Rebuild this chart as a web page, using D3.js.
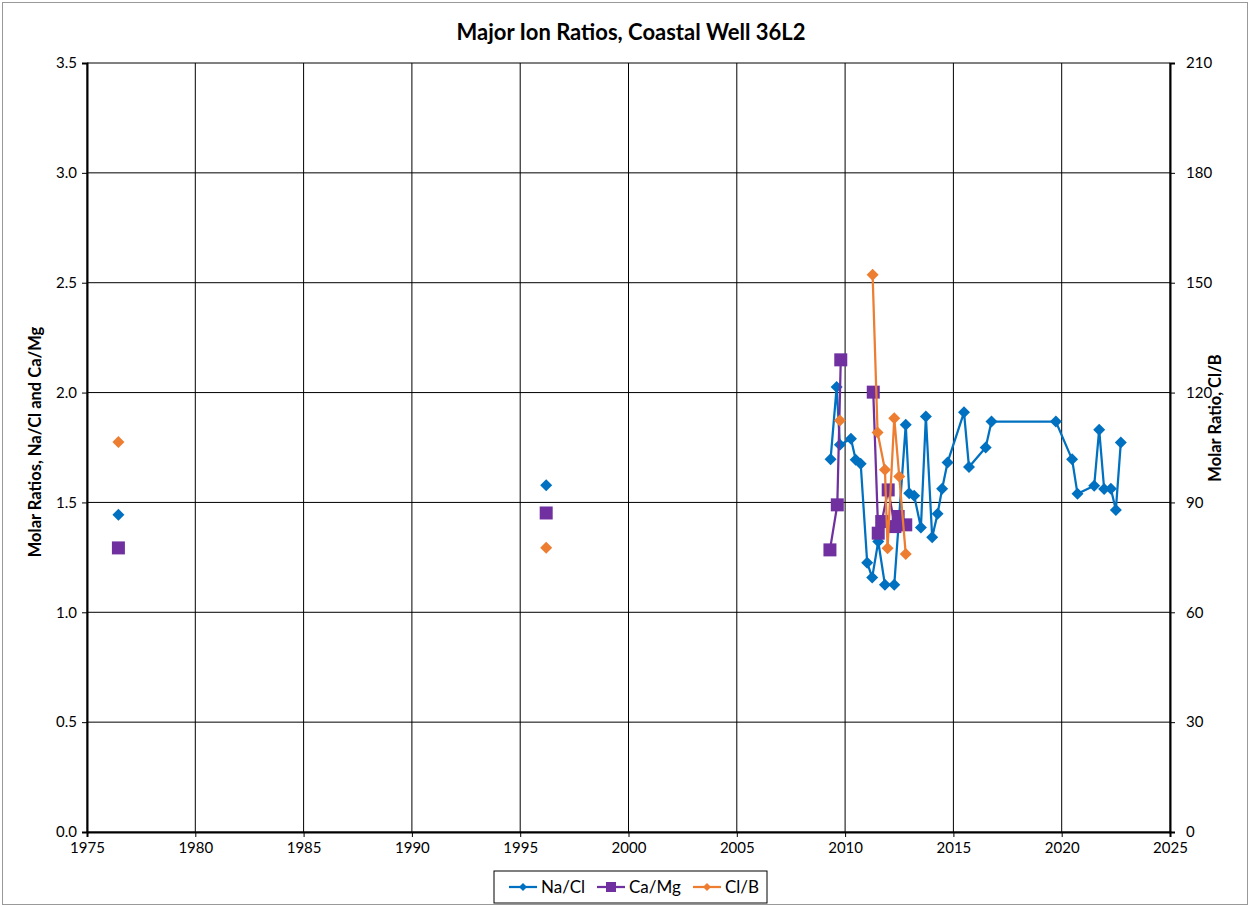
<!DOCTYPE html>
<html>
<head>
<meta charset="utf-8">
<script src="https://cdn.jsdelivr.net/npm/d3@7"></script>
<style>
  body { margin: 0; background: #fff; }
  svg text { font-family: Lato, "Open Sans", "Liberation Sans", sans-serif; fill: #000; }
</style>
</head>
<body>
<svg id="chart"></svg>
<script>
// Data; null marks a break in the line
const naclYears = [1976.45, null, 1996.2, null,
  2009.33, 2009.61, 2009.76, 2010.27, 2010.49, 2010.72, 2011.02, 2011.25, 2011.53, 2011.84,
  2012.27, 2012.80, 2012.96, 2013.19, 2013.50, 2013.73, 2014.02, 2014.27, 2014.48, 2014.73,
  2015.49, 2015.72, 2016.49, 2016.76, 2019.73, 2020.48, 2020.73, 2021.50, 2021.73, 2021.96,
  2022.27, 2022.50, 2022.73];
const naclValues = [1.444, null, 1.578, null,
  1.697, 2.025, 1.762, 1.790, 1.694, 1.676, 1.226, 1.158, 1.322, 1.125,
  1.125, 1.853, 1.542, 1.530, 1.386, 1.891, 1.342, 1.448, 1.562, 1.682,
  1.910, 1.661, 1.750, 1.868, 1.868, 1.696, 1.539, 1.576, 1.831, 1.561,
  1.562, 1.466, 1.773];

const camgYears = [1976.45, null, 1996.2, null, 2009.30, 2009.64, 2009.80, null,
  2011.30, 2011.53, 2011.69, 2011.99, 2012.30, 2012.45, 2012.80];
const camgValues = [1.293, null, 1.452, null, 1.284, 1.489, 2.149, null,
  2.002, 1.360, 1.413, 1.557, 1.390, 1.436, 1.398];

const clbYears = [1976.45, null, 1996.2, null, 2009.76, null,
  2011.27, 2011.50, 2011.84, 2011.96, 2012.27, 2012.50, 2012.80];
const clbValues = [106.5, null, 77.6, null, 112.4, null,
  152.2, 109.1, 98.9, 77.5, 113.0, 97.1, 75.9];

const xTicks = d3.range(1975, 2026, 5);
const yLeftTicks = d3.range(0, 3.51, 0.5);
const yRightTicks = d3.range(0, 211, 30);

const W = 1250, H = 907;
const plot = { left: 87, right: 1170, top: 63, bottom: 832 };

const svg = d3.select("#chart").attr("width", W).attr("height", H);

// outer chart border
svg.append("rect")
  .attr("x", 2.5).attr("y", 2.5)
  .attr("width", W - 5).attr("height", H - 5)
  .attr("fill", "#fff").attr("stroke", "#999").attr("stroke-width", 1);

const x = d3.scaleLinear().domain([1975, 2025]).range([plot.left, plot.right]);
const yL = d3.scaleLinear().domain([0, 3.5]).range([plot.bottom, plot.top]);
const yR = d3.scaleLinear().domain([0, 210]).range([plot.bottom, plot.top]);

// gridlines
svg.append("g").selectAll("line")
  .data(xTicks)
  .join("line")
  .attr("x1", d => x(d)).attr("x2", d => x(d))
  .attr("y1", plot.top).attr("y2", plot.bottom)
  .attr("stroke", "#000").attr("stroke-width", 1);

svg.append("g").selectAll("line")
  .data(yLeftTicks)
  .join("line")
  .attr("x1", plot.left).attr("x2", plot.right)
  .attr("y1", d => yL(d)).attr("y2", d => yL(d))
  .attr("stroke", "#000").attr("stroke-width", 1);

// axes
const xAxis = d3.axisBottom(x).tickValues(xTicks).tickFormat(d3.format("d")).tickSize(5).tickPadding(3);
const yLeftAxis = d3.axisLeft(yL).tickValues(yLeftTicks).tickFormat(d3.format(".1f")).tickSize(5).tickPadding(5);
const yRightAxis = d3.axisRight(yR).tickValues(yRightTicks).tickFormat(d3.format("d")).tickSize(5).tickPadding(11);

const gx = svg.append("g").attr("transform", `translate(0,${plot.bottom})`).call(xAxis);
const gyl = svg.append("g").attr("transform", `translate(${plot.left},0)`).call(yLeftAxis);
const gyr = svg.append("g").attr("transform", `translate(${plot.right},0)`).call(yRightAxis);

[gx, gyl, gyr].forEach(g => {
  g.select(".domain").attr("stroke", "#000").attr("stroke-width", 2);
  g.selectAll(".tick line").attr("stroke", "#000");
  g.selectAll(".tick text").attr("font-size", 15);
});
gx.selectAll(".tick text").attr("dy", "0.85em");

// series
const series = [
  { name: "Na/Cl", years: naclYears, values: naclValues, scale: yL, color: "#0070C0", shape: "diamond", size: 12 },
  { name: "Ca/Mg", years: camgYears, values: camgValues, scale: yL, color: "#7030A0", shape: "square", size: 13 },
  { name: "Cl/B", years: clbYears, values: clbValues, scale: yR, color: "#ED7D31", shape: "diamond", size: 12 }
];

// Excel-style filled markers: diamond = square turned 45 degrees
function marker(shape, w) {
  if (shape === "diamond") {
    const h = w / 2;
    return `M0,${-h}L${h},0L0,${h}L${-h},0Z`;
  }
  return d3.symbol().type(d3.symbolSquare).size(w * w)();
}

series.forEach(s => {
  const pts = s.years.map((yr, i) => ({ year: yr, value: s.values[i] }));
  const line = d3.line()
    .defined(d => d.year !== null && d.value !== null)
    .x(d => x(d.year))
    .y(d => s.scale(d.value));

  svg.append("path")
    .datum(pts)
    .attr("d", line)
    .attr("fill", "none")
    .attr("stroke", s.color)
    .attr("stroke-width", 2.25)
    .attr("stroke-linejoin", "round");

  svg.append("g").selectAll("path")
    .data(pts.filter(d => d.year !== null && d.value !== null))
    .join("path")
    .attr("transform", d => `translate(${x(d.year)},${s.scale(d.value)})`)
    .attr("d", marker(s.shape, s.size))
    .attr("fill", s.color);
});

// title and axis labels
svg.append("text")
  .attr("x", 631).attr("y", 40)
  .attr("text-anchor", "middle")
  .attr("font-size", 22).attr("font-weight", "bold")
  .text("Major Ion Ratios, Coastal Well 36L2");

svg.append("text")
  .attr("transform", `translate(41,442) rotate(-90)`)
  .attr("text-anchor", "middle")
  .attr("font-size", 16.5).attr("font-weight", "bold")
  .text("Molar Ratios, Na/Cl and Ca/Mg");

svg.append("text")
  .attr("transform", `translate(1221,418) rotate(-90)`)
  .attr("text-anchor", "middle")
  .attr("font-size", 16.5).attr("font-weight", "bold")
  .text("Molar Ratio, Cl/B");

// legend
const legend = svg.append("g").attr("transform", "translate(494,871)");
legend.append("rect")
  .attr("width", 273).attr("height", 32)
  .attr("fill", "#fff").attr("stroke", "#000").attr("stroke-width", 1);

const legendX = [15, 103, 199];
series.forEach((s, i) => {
  const g = legend.append("g").attr("transform", `translate(${legendX[i]},16)`);
  g.append("line").attr("x1", 0).attr("x2", 28).attr("stroke", s.color).attr("stroke-width", 2.25);
  g.append("path")
    .attr("transform", "translate(14,0)")
    .attr("d", marker(s.shape, s.shape === "diamond" ? 8 : 10))
    .attr("fill", s.color);
  g.append("text")
    .attr("x", 32).attr("dy", "0.35em")
    .attr("font-size", 17)
    .text(s.name);
});
</script>
</body>
</html>
